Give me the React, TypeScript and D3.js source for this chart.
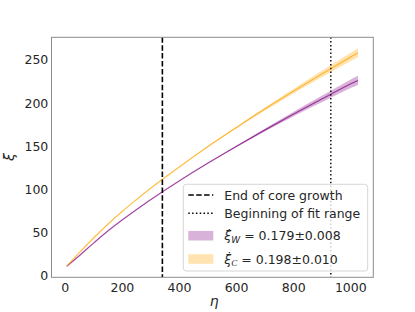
import { useEffect } from "react";
import { area as d3Area, curveCatmullRom, line as d3Line, scaleLinear } from "d3";

// time axis (eta) and the two length scales
const eta = [5, 50, 100, 150, 200, 250, 300, 400, 500, 600, 700, 800, 900, 1000, 1025];
const xiW = [11, 23.5, 38, 52, 64.8, 76.8, 88.4, 110.1, 130.6, 150.1, 169, 187.3, 205, 222.4, 226.3];
const xiC = [11, 27, 44, 59.9, 74.7, 88.4, 101.6, 126.3, 149.8, 171.9, 193.4, 214, 234, 253.6, 258.5];
// half-width of the shaded uncertainty bands
const bandW = [0, 0, 0, 0, 0, 0, 0, 0, 0.2, 0.8, 1.6, 2.6, 3.8, 5.0, 5.3];
const bandC = [0, 0, 0, 0, 0, 0, 0, 0.1, 0.5, 1.0, 1.8, 2.7, 3.8, 4.9, 5.2];

const coreEnd = 340;
const fitStart = 930;

const xTicks = [0, 200, 400, 600, 800, 1000];
const yTicks = [0, 50, 100, 150, 200, 250];

const legendLabels = ["End of core growth", "Beginning of fit range"];
const rateW = "0.179±0.008";
const rateC = "0.198±0.010";

const PURPLE = "#800080";
const ORANGE = "#ffa500";
const FONT = "DejaVu Sans, sans-serif";

export default function App() {
  useEffect(() => {
    document.body.style.margin = "0";
  }, []);

  const width = 415;
  const height = 312;
  const left = 51.5;
  const right = 373.3;
  const top = 37.3;
  const bottom = 277.3;

  const x = scaleLinear().domain([-48.3, 1078.8]).range([left, right]);
  const y = scaleLinear().domain([-1.85, 276.3]).range([bottom, top]);

  const pts = (vals: number[], hw: number[]) =>
    eta.map((e, i) => ({ e, v: vals[i], h: hw[i] }));

  const line = d3Line<{ e: number; v: number; h: number }>()
    .x((d) => x(d.e))
    .y((d) => y(d.v))
    .curve(curveCatmullRom);
  const band = d3Area<{ e: number; v: number; h: number }>()
    .x((d) => x(d.e))
    .y0((d) => y(d.v - d.h))
    .y1((d) => y(d.v + d.h))
    .curve(curveCatmullRom);

  const series = [
    { data: pts(xiW, bandW), color: PURPLE },
    { data: pts(xiC, bandC), color: ORANGE },
  ];

  const lx = 183.3;
  const ly = 184.3;
  const handleX = 188.3;
  const textX = 224.3;
  const rows = [195, 213.3, 235.7, 259];

  return (
    <svg width={width} height={height} style={{ display: "block", background: "#fff" }}>
      {/* bands and lines */}
      {series.map((s, i) => (
        <g key={i}>
          <path d={band(s.data) ?? ""} fill={s.color} opacity={0.3} />
          <path d={line(s.data) ?? ""} fill="none" stroke={s.color} strokeOpacity={0.72} strokeWidth={1.2} />
        </g>
      ))}

      {/* vertical markers */}
      <line x1={x(coreEnd)} x2={x(coreEnd)} y1={top} y2={bottom} stroke="#000" strokeWidth={1.6} strokeDasharray="5.5 2.4" />
      <line x1={x(fitStart)} x2={x(fitStart)} y1={top} y2={bottom} stroke="#000" strokeWidth={1.4} strokeDasharray="1.5 2.3" />

      {/* frame */}
      <rect x={left} y={top} width={right - left} height={bottom - top} fill="none" stroke="#8c8c8c" strokeWidth={1} />

      {/* ticks */}
      {xTicks.map((t) => (
        <text key={t} x={x(t)} y={292} textAnchor="middle" fontFamily={FONT} fontSize={12.5} fill="#262626">
          {t}
        </text>
      ))}
      {yTicks.map((t) => (
        <text key={t} x={48.3} y={y(t) + 4.5} textAnchor="end" fontFamily={FONT} fontSize={12.5} fill="#262626">
          {t}
        </text>
      ))}

      {/* axis labels */}
      <text x={214.3} y={306} textAnchor="middle" fontFamily={FONT} fontStyle="italic" fontSize={14} fill="#262626">
        η
      </text>
      <text
        transform={`translate(14,157) rotate(-90)`}
        textAnchor="middle"
        fontFamily={FONT}
        fontStyle="italic"
        fontSize={14}
        fill="#262626"
      >
        ξ
      </text>

      {/* legend */}
      <rect x={lx} y={ly} width={184.4} height={86.7} rx={3} fill="#fff" fillOpacity={0.8} stroke="#d6d6d6" strokeWidth={1} />
      <line x1={handleX} x2={handleX + 25} y1={rows[0]} y2={rows[0]} stroke="#000" strokeWidth={1.6} strokeDasharray="5.5 2.4" />
      <line x1={handleX} x2={handleX + 25} y1={rows[1]} y2={rows[1]} stroke="#000" strokeWidth={1.4} strokeDasharray="1.5 2.3" />
      <rect x={handleX} y={rows[2] - 4.8} width={25} height={9.6} fill={PURPLE} opacity={0.3} />
      <rect x={handleX} y={rows[3] - 4.8} width={25} height={9.6} fill={ORANGE} opacity={0.3} />
      {legendLabels.map((l, i) => (
        <text key={l} x={textX} y={rows[i] + 4.5} fontFamily={FONT} fontSize={12.5} fill="#262626">
          {l}
        </text>
      ))}
      <text x={textX} y={rows[2] + 4.5} fontFamily={FONT} fontSize={12.5} fill="#262626">
        <tspan fontStyle="italic">ξ̇</tspan>
        <tspan fontStyle="italic" fontSize={9} dy={2.5}>W</tspan>
        <tspan dy={-2.5}> = {rateW}</tspan>
      </text>
      <text x={textX} y={rows[3] + 4.5} fontFamily={FONT} fontSize={12.5} fill="#262626">
        <tspan fontStyle="italic">ξ̇</tspan>
        <tspan fontFamily="Liberation Serif, serif" fontStyle="italic" fontSize={9} dy={2.5}>C</tspan>
        <tspan dy={-2.5}> = {rateC}</tspan>
      </text>
    </svg>
  );
}
